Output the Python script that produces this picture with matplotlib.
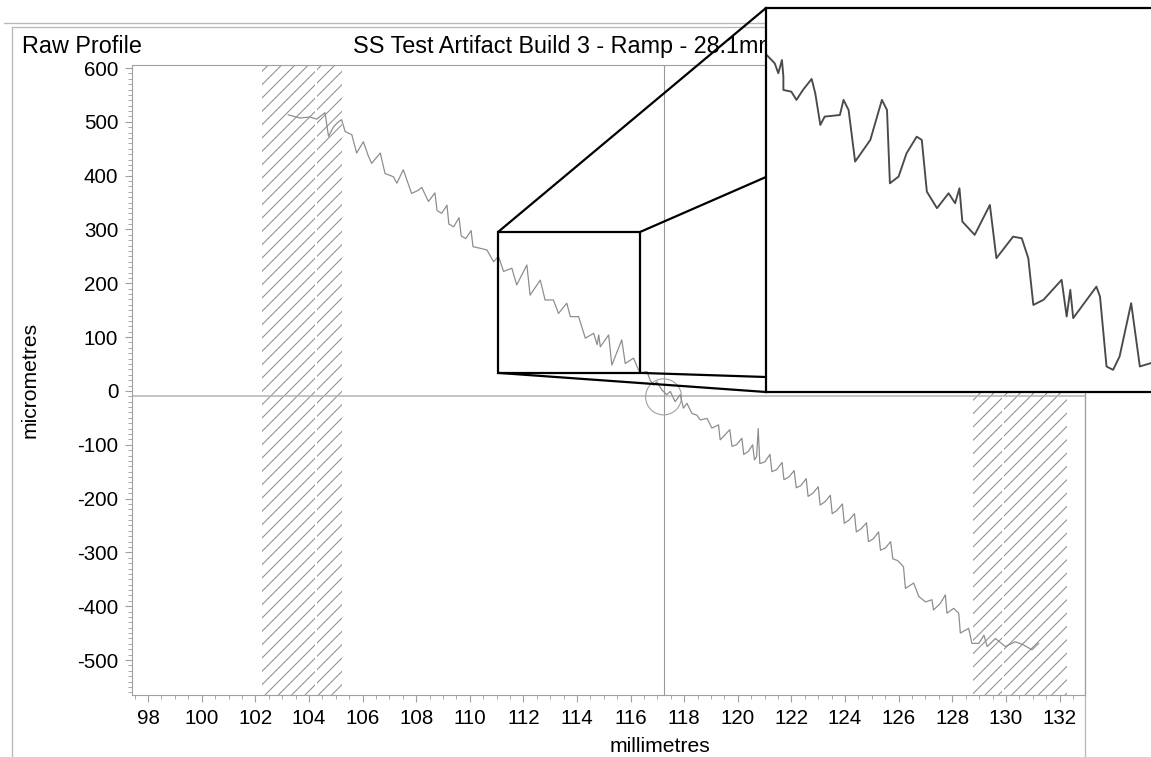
import matplotlib
matplotlib.use('Agg')
import matplotlib.pyplot as plt
from matplotlib.patches import Rectangle, Ellipse, ConnectionPatch
from matplotlib.lines import Line2D
from matplotlib.ticker import MultipleLocator

# picture size in pixels, dpi 80 gives the hatch spacing of the original
W, H, DPI = 1151, 757, 80

# raw profile (millimetres, micrometres)
profile_x = [103.23, 103.67, 104.04, 104.29, 104.60, 104.73, 104.92, 105.10, 105.22, 105.35,
             105.60, 105.78, 106.03, 106.22, 106.34, 106.66, 106.84, 107.15, 107.28, 107.52,
             107.83, 108.05, 108.21, 108.46, 108.70, 108.78, 108.95, 109.15, 109.22, 109.40,
             109.60, 109.68, 109.85, 110.05, 110.12, 110.39, 110.64, 110.89, 111.07, 111.26,
             111.57, 111.75, 112.13, 112.25, 112.63, 112.81, 113.12, 113.31, 113.62, 113.75,
             114.06, 114.31, 114.62, 114.75, 114.81, 114.87, 115.18, 115.30, 115.67, 115.80,
             116.11, 116.24, 116.36, 116.61, 116.73, 116.86, 116.98, 117.16, 117.35, 117.48,
             117.66, 117.85, 117.97, 118.10, 118.29, 118.47, 118.60, 118.85, 119.03, 119.28,
             119.34, 119.55, 119.70, 119.78, 119.95, 120.15, 120.22, 120.40, 120.55, 120.62,
             120.70, 120.76, 120.82, 121.00, 121.20, 121.27, 121.45, 121.65, 121.72, 121.90,
             122.10, 122.18, 122.35, 122.55, 122.62, 122.80, 123.00, 123.07, 123.25, 123.45,
             123.52, 123.70, 123.90, 123.97, 124.15, 124.35, 124.42, 124.60, 124.80, 124.87,
             125.05, 125.25, 125.32, 125.50, 125.70, 125.78, 125.95, 126.06, 126.18, 126.25,
             126.56, 126.75, 127.00, 127.24, 127.30, 127.55, 127.74, 127.80, 128.05, 128.24,
             128.30, 128.61, 128.73, 128.99, 129.18, 129.30, 129.61, 129.98, 130.35, 130.66,
             130.97, 131.22]
profile_y = [513, 507, 509, 505, 517, 473, 491, 500, 504, 482,
             476, 442, 463, 436, 423, 442, 404, 398, 386, 411,
             367, 372, 378, 352, 368, 335, 330, 345, 310, 305,
             322, 288, 283, 298, 268, 265, 262, 240, 250, 222,
             228, 197, 234, 178, 206, 169, 169, 144, 163, 138,
             138, 98, 107, 86, 104, 82, 104, 48, 95, 51,
             61, 45, 33, 36, 20, 11, 17, 2, -7, -1,
             -20, -7, -32, -23, -42, -45, -54, -51, -69, -63,
             -91, -80, -72, -103, -100, -88, -118, -112, -100, -128,
             -122, -70, -135, -132, -118, -150, -146, -133, -165, -160,
             -148, -180, -176, -163, -196, -190, -178, -212, -206, -194,
             -228, -222, -210, -246, -240, -228, -262, -256, -245, -280,
             -275, -262, -296, -292, -280, -312, -315, -320, -327, -367,
             -357, -382, -392, -388, -407, -395, -379, -413, -404, -413,
             -450, -441, -469, -469, -454, -475, -460, -475, -466, -472,
             -481, -469]

# the magnified piece shown in the inset
zoom_x = [111.07, 111.18, 111.23, 111.28, 111.30, 111.30, 111.41, 111.48, 111.57, 111.69,
          111.74, 111.81, 111.87, 112.08, 112.13, 112.20, 112.29, 112.50, 112.66, 112.73,
          112.77, 112.89, 113.00, 113.14, 113.21, 113.28, 113.42, 113.58, 113.67, 113.73,
          113.77, 113.94, 114.15, 114.24, 114.47, 114.59, 114.68, 114.75, 114.89, 115.14,
          115.21, 115.26, 115.30, 115.62, 115.67, 115.76, 115.85, 115.94, 116.10, 116.22,
          116.37]
zoom_y = [263.4, 257.8, 251.0, 260.0, 248.7, 239.6, 238.4, 232.8, 239.6, 247.1,
          237.3, 215.7, 221.4, 222.5, 232.8, 225.9, 190.7, 205.5, 232.8, 225.9,
          175.9, 180.5, 196.4, 207.7, 205.5, 170.2, 158.9, 169.1, 162.3, 172.5,
          149.8, 140.7, 161.1, 124.8, 139.5, 138.4, 124.8, 92.9, 96.4, 110.0,
          85.0, 103.2, 83.9, 105.4, 98.6, 50.9, 48.6, 57.7, 94.1, 50.9,
          53.2]

# excluded (hatched) bands
masked_bands = [(102.25, 104.22), (104.30, 105.24), (128.78, 129.86), (129.94, 132.29)]
# zoom window: x0, x1, y0, y1
zoom_box = (111.06, 116.36, 33.5, 295.5)
cursor_x = 117.23
cursor_y = -9
x_ticks = list(range(98, 133, 2))
y_ticks = list(range(-500, 601, 100))


def fx(px):
    return px / W


def fy(py):
    return 1 - py / H


plt.rcParams['font.family'] = ['Liberation Sans', 'DejaVu Sans']
plt.rcParams['axes.unicode_minus'] = False
plt.rcParams['hatch.linewidth'] = 0.9

fig = plt.figure(figsize=(W / DPI, H / DPI), dpi=DPI)
ax = fig.add_axes([fx(132), fy(695), (1085 - 132) / W, (695 - 65) / H])

grey = '#a0a0a0'

# hatched bands
for x0, x1 in masked_bands:
    ax.axvspan(x0, x1, facecolor='none', edgecolor='#8a8a8a', hatch='//', linewidth=0, zorder=1)

# cursor lines and circle
ax.axhline(cursor_y, color='#b4b4b4', lw=1.4, zorder=2)
ax.axvline(cursor_x, color='#999999', lw=1.0, zorder=2)
ax.add_patch(Ellipse((cursor_x, cursor_y - 2), width=1.34, height=67, fill=False,
                     edgecolor='#a0a0a0', lw=1.0, zorder=2))

# the profile
ax.plot(profile_x, profile_y, color='#8c8c8c', lw=1.1, zorder=3)

ax.set_xlim(97.4, 132.95)
ax.set_ylim(-565, 605.6)
ax.set_xticks(x_ticks)
ax.set_yticks(y_ticks)
ax.xaxis.set_minor_locator(MultipleLocator(0.5))
ax.yaxis.set_minor_locator(MultipleLocator(10))
ax.tick_params(which='major', length=6.3, width=1, color=grey, labelsize=18.5, pad=6)
ax.tick_params(which='minor', length=3.2, width=0.8, color=grey)
for s in ax.spines.values():
    s.set_color(grey)
    s.set_linewidth(1.0)

ax.set_xlabel('millimetres', fontsize=19)
ax.set_ylabel('micrometres', fontsize=19)
ax.xaxis.set_label_coords((660 - 132) / 953, (695 - 747) / 630)
ax.yaxis.set_label_coords((30 - 132) / 953, 0.5)
ax.xaxis.label.set_va('center')
ax.yaxis.label.set_va('center')

# header texts and frame belong to the main axes so the inset covers them
ax.text(fx(22), fy(53), 'Raw Profile', transform=fig.transFigure, fontsize=21,
        va='baseline', ha='left', clip_on=False)
ax.text(fx(353), fy(53), 'SS Test Artifact Build 3 - Ramp - 28.1mm', transform=fig.transFigure,
        fontsize=21, va='baseline', ha='left', clip_on=False)
frame = [((4, W), (23, 23)), ((12, 1085), (27, 27)), ((12, 12), (27, H)), ((1085, 1085), (27, H))]
for xs, ys in frame:
    ax.add_line(Line2D([fx(xs[0]), fx(xs[1])], [fy(ys[0]), fy(ys[1])], transform=fig.transFigure,
                       color='#b8b8b8', lw=1.2, clip_on=False))

# zoom window on the main plot
zx0, zx1, zy0, zy1 = zoom_box
ax.add_patch(Rectangle((zx0, zy0), zx1 - zx0, zy1 - zy0, fill=False, edgecolor='black',
                       lw=2.0, zorder=4))

# inset with the magnified profile
ins = fig.add_axes([fx(766), fy(392), (W - 766) / W, (392 - 8) / H], zorder=5)
ins.set_facecolor('white')
ins.plot(zoom_x, zoom_y, color='#4a4a4a', lw=1.7)
ins.set_xlim(zx0, zx0 + (zx1 - zx0) * (W - 766) / 384)
ins.set_ylim(zy0, zy1)
ins.set_xticks([])
ins.set_yticks([])
for s in ins.spines.values():
    s.set_color('black')
    s.set_linewidth(2.0)
ins.spines['right'].set_visible(False)

# connector lines from the zoom window to the inset
links = [((zx0, zy1), (766, 8)), ((zx1, zy1), (766, 177)),
         ((zx0, zy0), (766, 392)), ((zx1, zy0), (766, 377))]
for a, b in links:
    con = ConnectionPatch(xyA=a, coordsA=ax.transData, xyB=(fx(b[0]), fy(b[1])),
                          coordsB=fig.transFigure, color='black', lw=2.0, zorder=6)
    fig.add_artist(con)

plt.savefig('out.png', dpi=DPI)
plt.close()
